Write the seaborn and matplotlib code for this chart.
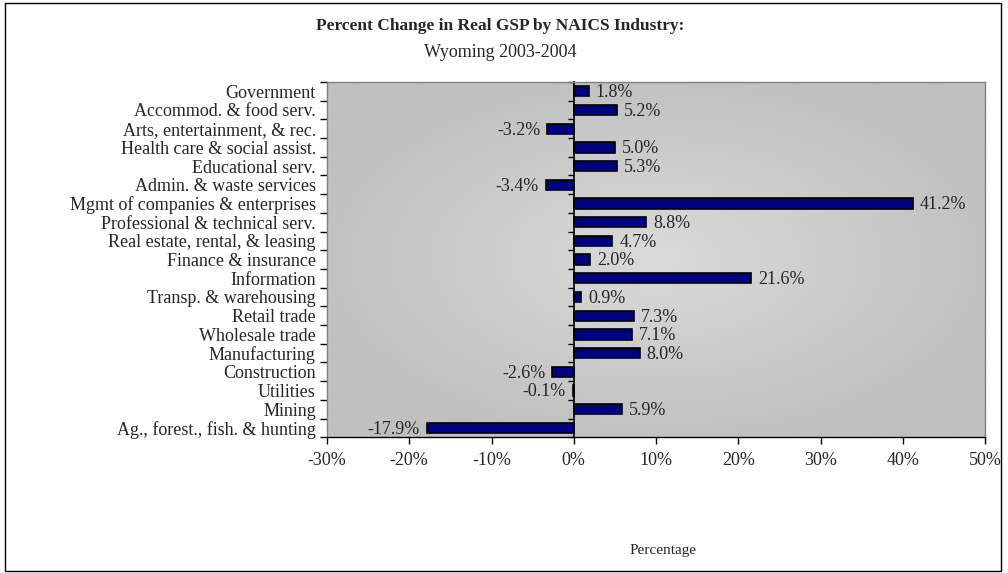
import numpy as np
import pandas as pd
import matplotlib
matplotlib.use('Agg')
import matplotlib.pyplot as plt
from matplotlib.colors import LinearSegmentedColormap
import seaborn as sns

industries = ['Government', 'Accommod. & food serv.', 'Arts, entertainment, & rec.',
              'Health care & social assist.', 'Educational serv.', 'Admin. & waste services',
              'Mgmt of companies & enterprises', 'Professional & technical serv.',
              'Real estate, rental, & leasing', 'Finance & insurance', 'Information',
              'Transp. & warehousing', 'Retail trade', 'Wholesale trade', 'Manufacturing',
              'Construction', 'Utilities', 'Mining', 'Ag., forest., fish. & hunting']
pct_change = [1.8, 5.2, -3.2, 5.0, 5.3, -3.4, 41.2, 8.8, 4.7, 2.0, 21.6,
              0.9, 7.3, 7.1, 8.0, -2.6, -0.1, 5.9, -17.9]
xticks = [-30, -20, -10, 0, 10, 20, 30, 40, 50]

df = pd.DataFrame({'industry': industries, 'pct': pct_change})

sns.set_style('white')
plt.rcParams['font.family'] = ['Liberation Serif', 'DejaVu Serif']
fs = 13

fig = plt.figure(figsize=(10.08, 5.73), dpi=100)
ax = fig.add_axes([0.3244, 0.237, 0.6528, 0.62])

sns.barplot(data=df, x='pct', y='industry', orient='h', color='#000080',
            saturation=1, width=0.55, edgecolor='black', linewidth=1.2, ax=ax, zorder=3)

ax.set_xlim(-30, 50)
ax.set_ylim(len(industries) - 0.5, -0.5)

# radial grey gradient background, lighter in the middle
gx, gy = np.meshgrid(np.linspace(-1, 1, 300), np.linspace(-1, 1, 300))
r = np.clip(np.sqrt(gx ** 2 + gy ** 2) / np.sqrt(2), 0, 1)
grey = LinearSegmentedColormap.from_list('grey', ['#dadada', '#c0c0c0'])
ax.imshow(r, cmap=grey, vmin=0, vmax=0.75, extent=[0, 1, 0, 1],
          transform=ax.transAxes, aspect='auto', zorder=0)

for i, v in enumerate(pct_change):
    ha = 'left' if v >= 0 else 'right'
    off = 5 if v >= 0 else -5
    ax.annotate(f'{v:.1f}%', (v, i), xytext=(off, -1), textcoords='offset points',
                ha=ha, va='center', fontsize=fs, zorder=4)

ax.set_xticks(xticks)
ax.set_xticklabels([f'{t}%' for t in xticks], fontsize=fs)
ax.tick_params(axis='x', direction='out', length=5, width=1, color='black', pad=6, bottom=True)

ax.set_yticks(range(len(industries)))
ax.set_yticklabels(industries, fontsize=fs)
ax.tick_params(axis='y', which='major', length=0, pad=8)
ax.set_yticks(np.arange(-0.5, len(industries)), minor=True)
ax.tick_params(axis='y', which='minor', direction='out', length=5, width=1, color='black', left=True)
ax.set_ylabel('')
ax.set_xlabel('')

for side in ['top', 'right', 'left']:
    ax.spines[side].set_color('#808080')
    ax.spines[side].set_linewidth(1)
ax.spines['bottom'].set_color('black')
ax.spines['bottom'].set_linewidth(1)

# value axis at zero
zero_ax = ax.secondary_yaxis(0, transform=ax.transData)
zero_ax.set_yticks(np.arange(-0.5, len(industries)))
zero_ax.set_yticklabels([])
zero_ax.tick_params(direction='out', length=4, width=1, color='black')
zero_ax.spines['left'].set_color('black')
zero_ax.spines['left'].set_linewidth(1.2)

fig.text(0.496, 0.955, 'Percent Change in Real GSP by NAICS Industry:', ha='center', va='center',
         fontsize=12.5, fontweight='bold')
fig.text(0.496, 0.908, 'Wyoming 2003-2004', ha='center', va='center', fontsize=13)
fig.text(0.658, 0.04, 'Percentage', ha='center', va='center', fontsize=11)

fig.patches.append(plt.Rectangle((0.005, 0.004), 0.988, 0.99, transform=fig.transFigure,
                                 fill=False, edgecolor='black', linewidth=1))

fig.savefig('out.png', dpi=100)
